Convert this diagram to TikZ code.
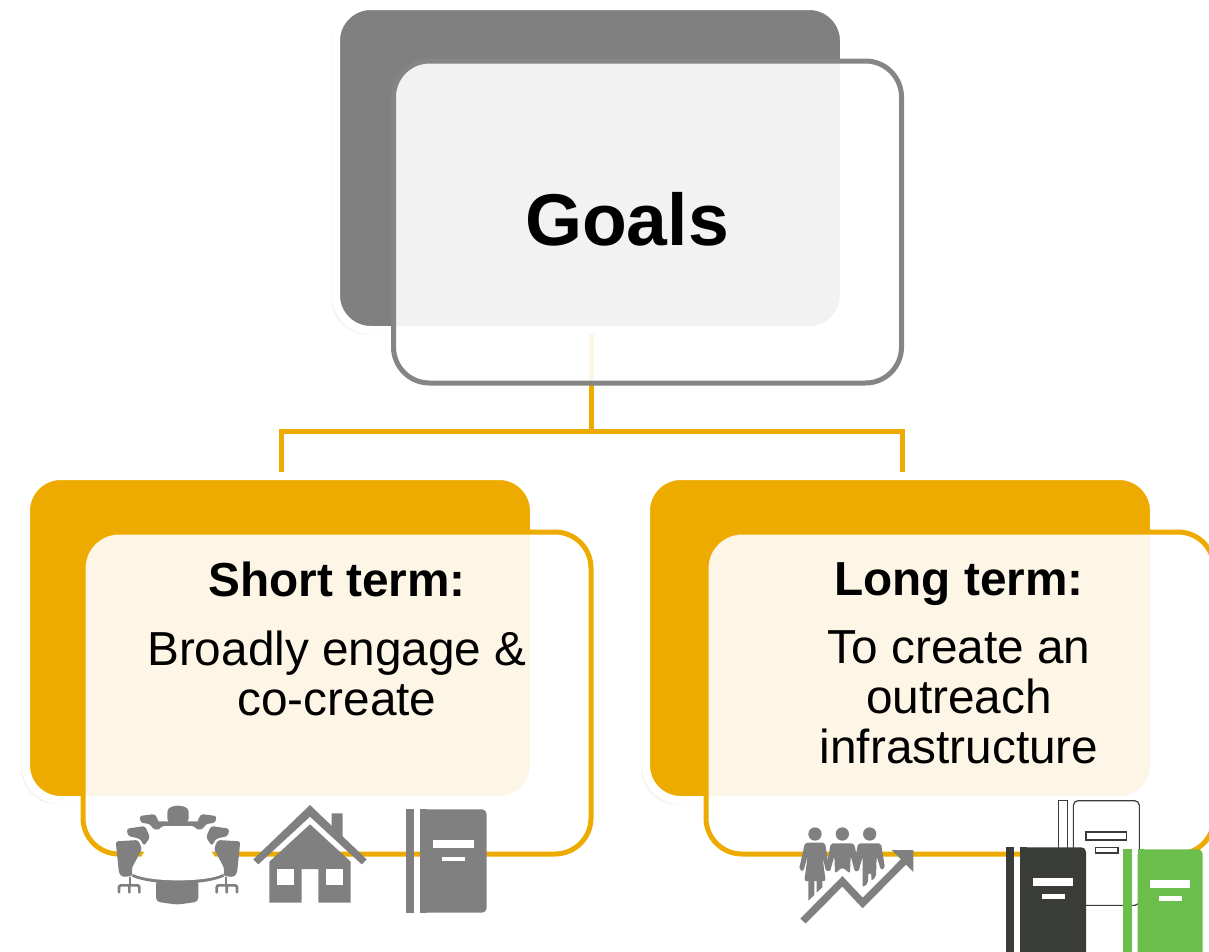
\documentclass[tikz,border=0pt]{standalone}
\usepackage{fontspec}
\setmainfont{Liberation Sans}
\usetikzlibrary{shadows}
\pgfdeclarelayer{bg}
\pgfsetlayers{bg,main}
\definecolor{gold}{HTML}{EDAB00}
\definecolor{midgray}{HTML}{808080}
\definecolor{framegray}{HTML}{858585}
\definecolor{darkbook}{HTML}{3A3C38}
\definecolor{greenbook}{HTML}{6CBE4C}
\tikzset{
  backbox/.style={draw=white,line width=6pt,rounded corners=26pt,minimum width=381pt,minimum height=243pt,
    inner sep=0pt,outer sep=0pt,drop shadow={shadow xshift=-1.2pt,shadow yshift=-1.8pt,shadow scale=1.012,opacity=.09}},
  framebox/.style={line width=3.75pt,rounded corners=27pt,minimum width=381pt,minimum height=241.5pt,
    inner sep=0pt,outer sep=0pt,fill=white,fill opacity=.9,draw opacity=1},
  conn/.style={draw=gold,line width=3.75pt},
  heading/.style={font=\fontsize{55}{60}\selectfont\bfseries,inner sep=0pt},
  blocktext/.style={font=\fontsize{35.8}{37.5}\selectfont,align=center,inner sep=0pt,anchor=north}
}
\newcommand{\chairset}{%
  \fill[midgray,rounded corners=2pt] (77,184)--(145,180)--(156,207)--(125,265)--(128,288)--(97,291)--(87,280)--cycle;
  \fill[midgray,rounded corners=2pt] (110,146)--(165,138)--(180,172)--(162,198)--(150,176)--(114,168)--cycle;
  \fill[midgray,rounded corners=2pt] (148,108)--(195,102)--(208,128)--(192,150)--(180,132)--(152,128)--cycle;
  \draw[midgray,line width=1.6pt] (120,292)--(120,316);
  \draw[midgray,line width=2pt,line cap=round,rounded corners=1.5pt] (87,337)--(87,316)--(148,316)--(148,337) (118,316)--(118,337);
}
\newcommand{\bookicon}[7]{% spine left, spine right, cover left, cover right, top, bottom, colour
  \fill[#7] (#1,#5) rectangle (#2,#6);
  \fill[#7,rounded corners=3.5pt] (#3,#5)--(#4,#5)--(#4,#6)--(#3,#6)--cycle;
  \fill[#7] (#3,#5) rectangle (#3+20,#6);
}
\begin{document}
\begin{tikzpicture}[x=0.75pt,y=-0.75pt]
\useasboundingbox (0,0) rectangle (1209,951);
\clip (0,0) rectangle (1209,951);

% back cards
\node[backbox,fill=midgray] (goalBack) at (590,168) {};
\node[backbox,fill=gold] (shortBack) at (280,638) {};
\node[backbox,fill=gold] (longBack) at (900,638) {};

% connectors, behind the cards
\coordinate (junction) at (591,431);
\begin{pgfonlayer}{bg}
  \draw[conn] (junction |- goalBack.south) -- (junction);
  \draw[conn] ([xshift=.75pt]shortBack.north) |- (junction) -| ([xshift=1.5pt]longBack.north);
\end{pgfonlayer}

% translucent frames
\node[framebox,draw=framegray] (goalFrame) at (647.5,222) {};
\node[framebox,draw=gold] (shortFrame) at (337,693) {};
\node[framebox,draw=gold] (longFrame) at (960,693) {};

% texts
\node[heading] (goalText) at (627,219) {Goals};
\node[blocktext] (shortText) at (337,562) {\textbf{Short term:}\\[14pt]Broadly engage \&\\co-create};
\node[blocktext] (longText) at (959,562) {\textbf{Long term:}\\[14pt]To create an\\outreach\\infrastructure};

% meeting table icon
\begin{scope}[shift={(90,780)},x=0.25pt,y=-0.25pt]
  \fill[midgray,rounded corners=3pt] (232,128)--(232,84)--(264,75)--(296,84)--(296,128)--cycle;
  \chairset
  \begin{scope}[shift={(528,0)},xscale=-1]\chairset\end{scope}
  \fill[midgray,rounded corners=3pt] (198,300)--(325,300)--(325,365)--(262,374)--(198,365)--cycle;
  \fill[midgray] (205,124)--(322,124)--(336,148)--(192,148)--cycle;
  \fill[midgray] (128,282) .. controls (190,305) and (340,305) .. (400,282)--(402,290) .. controls (340,318) and (190,318) .. (126,290)--cycle;
  \fill[white,rounded corners=2.5pt] (214,138)--(314,138)--(402,272)--(398,282) .. controls (340,306) and (190,306) .. (130,282)--(126,272)--cycle;
\end{scope}

% house icon
\begin{scope}[shift={(90,780)},x=0.25pt,y=-0.25pt]
  \fill[midgray] (725,100)--(758,100)--(758,172)--(725,140)--cycle;
  \fill[midgray] (490,238)--(660,75)--(830,238)--(815,253)--(660,110)--(505,253)--cycle;
  \fill[midgray] (660,133)--(782,245)--(782,368)--(685,368)--(685,267)--(635,267)--(635,368)--(538,368)--(538,245)--cycle;
  \fill[white] (562,267) rectangle (612,316);
  \fill[white] (709,267) rectangle (758,316);
\end{scope}

% grey book icon
\begin{scope}[shift={(90,780)},x=0.25pt,y=-0.25pt]
  \bookicon{947}{973}{990}{1190}{88}{398}{midgray}
  \fill[white] (1029,180) rectangle (1151,204);
  \fill[white] (1057,230) rectangle (1125,243);
\end{scope}

% people and growth arrow icon
\begin{scope}[shift={(780,780)},x=0.25pt,y=-0.25pt]
  \fill[midgray] (105,162) circle (20) (187,162) circle (20) (269,162) circle (20);
  \fill[midgray,rounded corners=1.5pt] (75,188)--(135,188)--(148,270)--(138,274)--(127,228)--(137,303)--(73,303)--(83,228)--(70,274)--(57,268)--cycle;
  \fill[midgray] (85,303)--(103,303)--(103,345)--(85,362)--cycle;
  \fill[midgray] (110,303)--(127,303)--(127,322)--(110,338)--cycle;
  \fill[midgray,rounded corners=1.5pt] (152,190)--(222,190)--(240,270)--(225,275)--(212,228)--(210,280)--(187,262)--(165,280)--(163,228)--(150,275)--(138,270)--cycle;
  \fill[midgray,rounded corners=1.5pt] (234,190)--(303,190)--(315,265)--(303,270)--(290,230)--(288,290)--(274,303)--(274,280)--(264,280)--(264,310)--(248,322)--(248,230)--(235,275)--(220,270)--cycle;
  \draw[midgray,line width=5.5pt,line join=miter] (69,423)--(187,304)--(248,369)--(378,238);
  \fill[midgray] (335,210)--(400,210)--(400,276)--cycle;
\end{scope}

% three book icons
\begin{scope}[shift={(780,780)},x=0.25pt,y=-0.25pt]
  \draw[darkbook,line width=.9pt,fill=white] (836,62) rectangle (863,380);
  \draw[darkbook,line width=.9pt,fill=white,rounded corners=3.5pt] (880,62)--(1078,62)--(1078,376)--(880,376)--cycle;
  \draw[darkbook,line width=.9pt,fill=white] (918,156) rectangle (1040,180);
  \draw[darkbook,line width=.9pt,fill=white] (946,203) rectangle (1014,219);
  \bookicon{677}{703}{720}{918}{202}{530}{darkbook}
  \fill[white] (759,295) rectangle (878,318);
  \fill[white] (787,341) rectangle (855,357);
  \bookicon{1030}{1056}{1073}{1268}{208}{530}{greenbook}
  \fill[white] (1110,300) rectangle (1230,324);
  \fill[white] (1138,347) rectangle (1205,363);
\end{scope}
\end{tikzpicture}
\end{document}
